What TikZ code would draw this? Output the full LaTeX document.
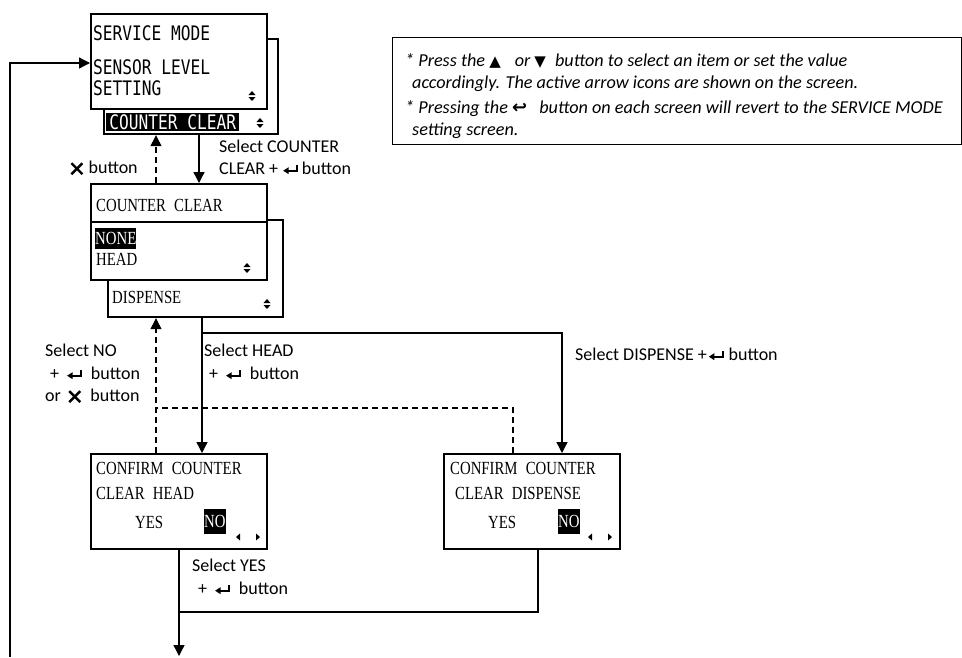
\documentclass[tikz,border=0pt]{standalone}
\usepackage{fontspec}
\setmainfont{Carlito}
\newfontfamily\lcd[FakeStretch=0.81]{DejaVu Sans Mono}
\newfontfamily\mincho[FakeStretch=0.8,WordSpace=2.2]{Liberation Serif}
\newfontfamily\sym{DejaVu Sans}
\usetikzlibrary{arrows.meta}
\newcommand\entr{\tikz[baseline=-3.5pt, x=1pt, y=1pt]{\draw[line width=1.7pt, -{Triangle[width=6.5pt,length=5.5pt]}] (14,5.5) -- (14,0) -- (0,0);}}
\newcommand\xbtn{\tikz[baseline=-4.5pt, x=1pt, y=1pt]{\draw[line width=2.4pt] (-5.5,-5.5) -- (5.5,5.5) (-5.5,5.5) -- (5.5,-5.5);}}
\tikzset{
  scr/.style={draw, line width=2.2pt, fill=white, inner sep=0pt, anchor=north west},
  lcdt/.style={anchor=west, inner sep=0pt, font=\lcd\fontsize{20}{20}\selectfont},
  mt/.style={anchor=west, inner sep=0pt, font=\mincho\fontsize{18.5}{18.5}\selectfont},
  lab/.style={anchor=west, inner sep=0pt, font=\fontsize{18}{18}\selectfont},
  notet/.style={anchor=west, inner sep=0pt, font=\itshape\fontsize{18.2}{18.2}\selectfont},
  hl/.style={fill=black, text=white, inner sep=0pt, anchor=north west},
  conn/.style={line width=1.3pt, -{Triangle[width=11pt,length=11pt]}},
  dconn/.style={conn, dash pattern=on 6pt off 4pt},
  wire/.style={line width=1.3pt},
  dwire/.style={wire, dash pattern=on 6pt off 4pt},
  updown/.pic={\fill (-3.5,-1) -- (3.5,-1) -- (0,-5) -- cycle;
               \fill (-3.5,1) -- (3.5,1) -- (0,5) -- cycle;},
  leftright/.pic={\fill (-12,0) -- (-8,-3.5) -- (-8,3.5) -- cycle;
                  \fill (12,0) -- (8,-3.5) -- (8,3.5) -- cycle;}
}
\begin{document}
\begin{tikzpicture}[x=1pt,y=-1pt]
\useasboundingbox (0,0) rectangle (962,657);

% helper coordinates
\coordinate (x156) at (156,0);
\coordinate (x199) at (199,0);
\coordinate (x202) at (202,0);
\coordinate (x562) at (562,0);
\coordinate (x513) at (513,0);
\coordinate (x179) at (179,0);
\coordinate (x538) at (538,0);
\coordinate (y63) at (0,63);
\coordinate (y333) at (0,333);
\coordinate (y408) at (0,408);
\coordinate (y612) at (0,612);
\coordinate (loopstart) at (10,657);
\coordinate (exitend) at (179,656);

% note box
\node[draw, line width=1.3pt, anchor=north west, minimum width=569pt, minimum height=107pt, inner sep=0pt] (notebox) at (392,37) {};
\node[notet] (n1) at (405,61) {* Press the {\sym\upshape\fontsize{15}{15}\selectfont ▲}\hspace{14pt}or {\sym\upshape\fontsize{15}{15}\selectfont ▼}\hspace{5pt} button to select an item or set the value};
\node[notet] (n2) at (412,84) {accordingly. The active arrow icons are shown on the screen.};
\node[notet] (n3) at (405,109) {* Pressing the {\sym\upshape\bfseries\fontsize{18}{18}\selectfont ↩}\hspace{8pt} button on each screen will revert to the SERVICE MODE};
\node[notet] (n4) at (412,131) {setting screen.};

% SERVICE MODE screens
\node[scr, minimum width=174pt, minimum height=95pt] (A2) at (103,38) {};
\node[scr, minimum width=176pt, minimum height=95pt] (A1) at (90,13) {};
\node[lcdt] (a1t1) at (93,33) {SERVICE MODE};
\node[lcdt] (a1t2) at (93,67) {SENSOR LEVEL};
\node[lcdt] (a1t3) at (93,88) {SETTING};
\pic at (252,96) {updown};
\node[hl, minimum width=133pt, minimum height=18pt, font=\lcd\fontsize{20}{20}\selectfont] (a2hl) at (106,113) {COUNTER CLEAR};
\pic at (260,123) {updown};

% COUNTER CLEAR screens
\node[scr, minimum width=175pt, minimum height=97pt] (B2) at (107,219) {};
\node[scr, minimum width=176pt, minimum height=58pt] (B1mid) at (90,221) {};
\node[scr, minimum width=176pt, minimum height=38pt] (B1top) at (90,183) {};
\node[mt] (b1t) at (96,205) {COUNTER CLEAR};
\node[hl, minimum width=41pt, minimum height=21pt, font=\mincho\fontsize{18.5}{18.5}\selectfont] (b1none) at (95,228) {NONE};
\node[mt] (b1head) at (96,259) {HEAD};
\pic at (247,268) {updown};
\node[mt] (b2t) at (112,297) {DISPENSE};
\pic at (267,304) {updown};

% CONFIRM screens
\node[scr, minimum width=176pt, minimum height=95pt] (C1) at (90,453) {};
\node[mt] (c1t1) at (96,468) {CONFIRM COUNTER};
\node[mt] (c1t2) at (96,493) {CLEAR HEAD};
\node[mt] (c1yes) at (135,522) {YES};
\node[hl, minimum width=21pt, minimum height=25pt, font=\mincho\fontsize{18.5}{18.5}\selectfont] (c1no) at (204,509) {NO};
\pic at (248,537) {leftright};

\node[scr, minimum width=176pt, minimum height=95pt] (C2) at (443,453) {};
\node[mt] (c2t1) at (450,468) {CONFIRM COUNTER};
\node[mt] (c2t2) at (455,493) {CLEAR DISPENSE};
\node[mt] (c2yes) at (488,522) {YES};
\node[hl, minimum width=21pt, minimum height=25pt, font=\mincho\fontsize{18.5}{18.5}\selectfont] (c2no) at (558,509) {NO};
\pic at (600,537) {leftright};

% connectors
\draw[conn] (loopstart) |- (y63 -| A1.west);
\draw[conn] (A2.south -| x199) -- (B1top.north -| x199);
\draw[dconn] (B1top.north -| x156) -- (A2.south -| x156);
\draw[conn] (B2.south -| x202) -- (C1.north -| x202);
\draw[conn] (x202 |- y333) -| (C2.north -| x562);
\draw[dconn] (C1.north -| x156) -- (B2.south -| x156);
\draw[dwire] (C2.north -| x513) |- (x156 |- y408);
\draw[conn] (C1.south -| x179) -- (exitend);
\draw[wire] (C2.south -| x538) |- (x179 |- y612);

% labels
\node[lab] (lx) at (70,168) {\xbtn\hspace{5pt}button};
\node[lab] (lsc1) at (219,146) {Select COUNTER};
\node[lab] (lsc2) at (219,168) {CLEAR + \entr\hspace{4pt}button};
\node[lab] (lno1) at (45,350) {Select NO};
\node[lab] (lno2) at (50,373) {+ \hspace{3pt}\entr\hspace{9pt}button};
\node[lab] (lno3) at (45,396) {or \hspace{3pt}\xbtn\hspace{9pt}button};
\node[lab] (lh1) at (204,350) {Select HEAD};
\node[lab] (lh2) at (209,373) {+ \hspace{3pt}\entr\hspace{9pt}button};
\node[lab] (ld) at (575,354) {Select DISPENSE +\hspace{1pt}\entr\hspace{5pt}button};
\node[lab] (ly1) at (192,565) {Select YES};
\node[lab] (ly2) at (198,588) {+ \hspace{3pt}\entr\hspace{9pt}button};
\end{tikzpicture}
\end{document}
